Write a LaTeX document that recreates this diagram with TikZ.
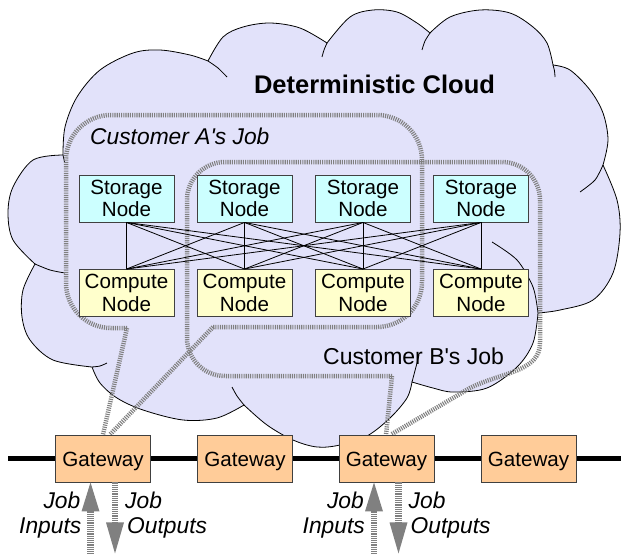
\documentclass[tikz,border=0pt]{standalone}
\usepackage{fontspec}
\setmainfont{Liberation Sans}[Ligatures=TeXOff]
\definecolor{cloudc}{RGB}{226,226,250}
\definecolor{stor}{RGB}{204,255,255}
\definecolor{comp}{RGB}{255,255,204}
\definecolor{gate}{RGB}{255,204,153}
\definecolor{jobg}{RGB}{128,128,128}
\definecolor{edgec}{RGB}{64,64,64}
\pgfdeclarelayer{bg}
\pgfsetlayers{bg,main}
\begin{document}
\begin{tikzpicture}[x=1pt,y=-1pt,
  box/.style={draw=edgec, line width=0.9pt, minimum width=95pt, minimum height=47pt, inner sep=0pt, align=center, font=\fontsize{20.6}{22.5}\selectfont},
  stornode/.style={box, fill=stor},
  compnode/.style={box, fill=comp, font=\fontsize{20.6}{23.5}\selectfont},
  gatenode/.style={box, fill=gate, text height=15pt, text depth=0pt},
  jobline/.style={draw=jobg, line width=4.5pt, dash pattern=on 1.1pt off 1.1pt},
  shaft/.style={draw=jobg, line width=6.5pt, dash pattern=on 1.1pt off 1.1pt},
  head/.style={fill=jobg},
  mesh/.style={draw=black, line width=0.8pt},
  cloudline/.style={draw=black, line width=0.8pt},
  lbl/.style={font=\fontsize{22.8}{24}\selectfont\itshape, inner sep=0pt},
  joblbl/.style={font=\fontsize{23}{24}\selectfont, inner sep=0pt},
]
\useasboundingbox (0,0) rectangle (621,554);
\coordinate (bottom) at (0,554);

% bus
\coordinate (busL) at (8,458.5);
\coordinate (busR) at (621,458.5);
\draw[line width=5pt, black] (busL) -- (busR);

% nodes
\node[stornode] (s1) at (126.5,198.5) {Storage\\Node};
\node[stornode] (s2) at (244.5,198.5) {Storage\\Node};
\node[stornode] (s3) at (363,198.5) {Storage\\Node};
\node[stornode] (s4) at (481,198.5) {Storage\\Node};
\node[compnode] (c1) at (126.5,293) {Compute\\Node};
\node[compnode] (c2) at (244.5,293) {Compute\\Node};
\node[compnode] (c3) at (363,293) {Compute\\Node};
\node[compnode] (c4) at (481,293) {Compute\\Node};
\node[gatenode] (g1) at (103,458.5) {Gateway};
\node[gatenode] (g2) at (245,458.5) {Gateway};
\node[gatenode] (g3) at (386.5,458.5) {Gateway};
\node[gatenode] (g4) at (528.5,458.5) {Gateway};

\foreach \i in {1,...,4}{\foreach \j in {1,...,4}{\draw[mesh] (s\i.south) -- (c\j.north);}}

% labels
\node[font=\fontsize{25.5}{28}\selectfont\bfseries, anchor=base, inner sep=0pt] (title) at (374.5,93) {Deterministic Cloud};
\node[lbl, anchor=base west] (jobA) at (90,144) {Customer A's Job};
\node[joblbl, anchor=base west] (jobB) at (323,364) {Customer B's Job};

% input / output arrows
\foreach \g in {1,3}{
  \coordinate (in\g) at ([xshift=-12.5pt]g\g.south);
  \coordinate (out\g) at ([xshift=12pt]g\g.south);
  \draw[shaft] ([yshift=-29pt]in\g) -- (in\g |- bottom);
  \fill[head] (in\g) -- ++(9,29) -- ++(-18,0) -- cycle;
  \draw[shaft] (out\g) -- ([yshift=-40pt]out\g);
  \fill[head] ([yshift=-71pt]out\g) -- ++(9,-31) -- ++(-18,0) -- cycle;
  \node[lbl, anchor=base east] (ji\g) at ([xshift=-10pt]in\g |- 0,508) {Job};
  \node[lbl, anchor=base east] (ii\g) at ([xshift=-9pt]in\g |- 0,533) {Inputs};
  \node[lbl, anchor=base west] (jo\g) at ([xshift=10pt]out\g |- 0,508) {Job};
  \node[lbl, anchor=base west] (oo\g) at ([xshift=12pt]out\g |- 0,533) {Outputs};
}

\begin{pgfonlayer}{bg}
% cloud
\path[fill=cloudc, cloudline] (63,155)
 -- plot[smooth, tension=0.55] coordinates {(63,155) (65,127) (77,97) (100,70) (133,53) (160,50) (190,55) (208,61)}
 -- plot[smooth, tension=0.55] coordinates {(208,61) (223,37) (243,27) (270,23) (300,28) (327,43)}
 -- plot[smooth, tension=0.55] coordinates {(327,43) (350,17) (373,10) (397,12) (417,23) (430,33)}
 -- plot[smooth, tension=0.55] coordinates {(430,33) (450,17) (480,10) (510,13) (533,27) (547,43) (553,65)}
 -- plot[smooth, tension=0.55] coordinates {(553,65) (570,70) (590,90) (603,113) (608,140) (603,165)}
 -- plot[smooth, tension=0.55] coordinates {(603,165) (617,200) (620,233) (613,273) (593,300) (560,310) (538,313)}
 -- plot[smooth, tension=0.55] coordinates {(538,313) (533,343) (517,367) (487,388) (453,392) (433,388) (412,382)}
 -- plot[smooth, tension=0.55] coordinates {(412,382) (407,398) (390,418) (367,436) (340,445) (317,447) (293,440) (267,425) (244,405)}
 -- plot[smooth, tension=0.55] coordinates {(244,405) (217,418) (183,420) (143,410) (117,398) (100,383) (92,367)}
 -- plot[smooth, tension=0.55] coordinates {(92,367) (53,360) (30,340) (22,317) (23,290) (35,264)}
 -- plot[smooth, tension=0.55] coordinates {(35,264) (13,240) (8,213) (13,187) (33,160) (63,155)}
 -- cycle;
% inner hooks
\draw[cloudline] (63,155) -- (64.5,162);
\draw[cloudline] plot[smooth] coordinates {(208,61) (218,68) (227,77)};
\draw[cloudline] plot[smooth] coordinates {(327,43) (324,50) (322,57)};
\draw[cloudline] plot[smooth] coordinates {(430,33) (425,41) (422,50)};
\draw[cloudline] plot[smooth] coordinates {(553,65) (554.5,71) (555,77)};
\draw[cloudline] plot[smooth] coordinates {(603,165) (595,180) (580,192)};
\draw[cloudline] plot[smooth] coordinates {(538,313) (533,287) (517,260) (492,242)};
\draw[cloudline] plot[smooth] coordinates {(412,382) (417,363) (419,355)};
\draw[cloudline] plot[smooth] coordinates {(244,405) (237,396) (232,387)};
\draw[cloudline] plot[smooth] coordinates {(92,367) (100,366) (107,363)};
\draw[cloudline] plot[smooth] coordinates {(35,264) (50,270) (65,273)};

% customer A job
\coordinate (Abl) at (127,328);
\coordinate (Abr) at (213,327);
\draw[jobline, rounded corners=45pt] (Abl) -- (66,328) -- (66,115) -- (422,115) -- (422,327) -- (Abr);
\draw[jobline] (Abl) -- (g1.north);
\draw[jobline] (Abr) -- ([xshift=7pt]g1.north);
% customer B job
\coordinate (Bbl) at (392,376);
\coordinate (Bre) at (540,343);
\draw[jobline, rounded corners=38pt] (Bbl) -- (187,376) -- (187,162) -- (540,162) -- (Bre);
\draw[jobline] (Bre) .. controls (540,372) and (502,372) .. (470,388) -- ([xshift=4.5pt]g3.north);
\draw[jobline] (Bbl) -- ([xshift=-0.5pt]g3.north);
\end{pgfonlayer}
\end{tikzpicture}
\end{document}
